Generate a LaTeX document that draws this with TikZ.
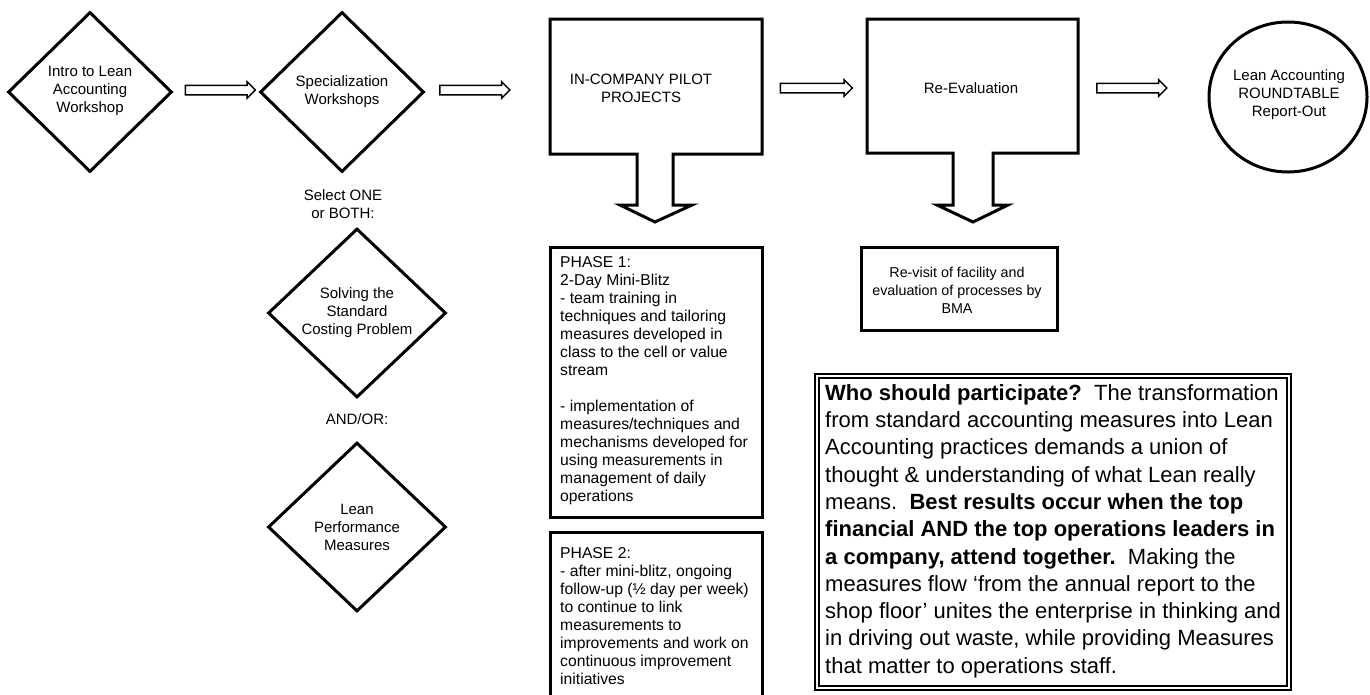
\documentclass[tikz,border=0pt]{standalone}
\usepackage{fontspec}
\setmainfont{Liberation Sans}
\usetikzlibrary{shapes.geometric,shapes.arrows}
\begin{document}
\begin{tikzpicture}[x=1pt,y=-1pt,
  dia/.style={draw,diamond,line width=3pt,minimum width=164pt,minimum height=160pt,inner sep=0pt},
  dia2/.style={draw,diamond,line width=3pt,minimum width=178pt,minimum height=169pt,inner sep=0pt},
  lbl/.style={align=center,inner sep=0pt,font=\fontsize{15}{18}\selectfont},
  small/.style={align=center,inner sep=0pt,font=\fontsize{14.3}{18}\selectfont},
  para/.style={align=left,inner sep=0pt,anchor=west,font=\fontsize{15.7}{18}\selectfont},
  barrow/.style={draw,single arrow,line width=1.5pt,minimum height=70pt,minimum width=0pt,
    single arrow head extend=3.5pt,single arrow head indent=0pt,inner sep=0pt},
  callout/.style={draw,line width=3pt,line join=miter},
  plainbox/.style={draw,line width=3pt}
]
\useasboundingbox (0,0) rectangle (1370,694);

% diamonds
\node[dia] (d1) at (90,92) {};
\node[lbl] (t1) at (90,91) {Intro to Lean\\Accounting\\Workshop};
\node[dia] (d2) at (342,92) {};
\node[lbl] (t2) at (342,92) {Specialization\\Workshops};
\node[lbl] (sel) at (343,204) {Select ONE\\or BOTH:};
\node[dia2] (d3) at (357,313) {};
\node[lbl] (t3) at (357,313) {Solving the\\Standard\\Costing Problem};
\node[lbl] (andor) at (357,419) {AND/OR:};
\node[dia2] (d4) at (357,527) {};
\node[lbl] (t4) at (357,527) {Lean\\Performance\\Measures};

% block arrows
\node[barrow] (a1) at (218,90) {\rule{0pt}{8pt}};
\node[barrow] (a2) at (472.5,90) {\rule{0pt}{8pt}};
\node[barrow,minimum height=72pt] (a3) at (814,88) {\rule{0pt}{8pt}};
\node[barrow] (a4) at (1129.5,88) {\rule{0pt}{8pt}};

% callout box: in-company pilot projects
\draw[callout] (550,19) -- (762,19) -- (762,154) -- (673,154) -- (673,205) -- (692,205)
  -- (655,222) -- (620,205) -- (637,205) -- (637,154) -- (550,154) -- cycle;
\node[lbl] (pilot) at (641,88) {IN-COMPANY PILOT\\PROJECTS};

% callout box: re-evaluation
\draw[callout] (867,19) -- (1078,19) -- (1078,153) -- (993,153) -- (993,205) -- (1008,205)
  -- (973,222) -- (937,205) -- (953,205) -- (953,153) -- (867,153) -- cycle;
\node[lbl] (reeval) at (971,88) {Re-Evaluation};

% roundtable
\draw[line width=3pt] (1288,97) ellipse [x radius=79, y radius=75];
\node[lbl] (round) at (1289,95) {Lean Accounting\\ROUNDTABLE\\Report-Out};

% phase 1
\draw[plainbox] (550,247) rectangle (762,517);
\node[para] (p1) at (560,381) {PHASE 1:\\2-Day Mini-Blitz\\- team training in\\techniques and tailoring\\measures developed in\\class to the cell or value\\stream\\[18pt]- implementation of\\measures/techniques and\\mechanisms developed for\\using measurements in\\management of daily\\operations};

% phase 2
\draw[plainbox] (550,698) -- (550,532) -- (762,532) -- (762,698);
\node[para] (p2) at (560,616) {PHASE 2:\\- after mini-blitz, ongoing\\follow-up (½ day per week)\\to continue to link\\measurements to\\improvements and work on\\continuous improvement\\initiatives};

% re-visit
\draw[plainbox] (861,247) rectangle (1057,330);
\node[small] (rv) at (957,290) {Re-visit of facility and\\evaluation of processes by\\BMA};

% who should participate
\draw[line width=1.5pt] (815,374) rectangle (1291,690);
\draw[line width=1.5pt] (819,378) rectangle (1287,686);
\node[align=left,inner sep=0pt,anchor=west,font=\fontsize{22}{27.3}\selectfont] (who) at (825,531)
{\textbf{Who should participate?}\ \ The transformation\\
from standard accounting measures into Lean\\
Accounting practices demands a union of\\
thought \& understanding of what Lean really\\
means.\ \ \textbf{Best results occur when the top}\\
\textbf{financial AND the top operations leaders in}\\
\textbf{a company, attend together.}\ \ Making the\\
measures flow ‘from the annual report to the\\
shop floor’ unites the enterprise in thinking and\\
in driving out waste, while providing Measures\\
that matter to operations staff.};
\end{tikzpicture}
\end{document}
